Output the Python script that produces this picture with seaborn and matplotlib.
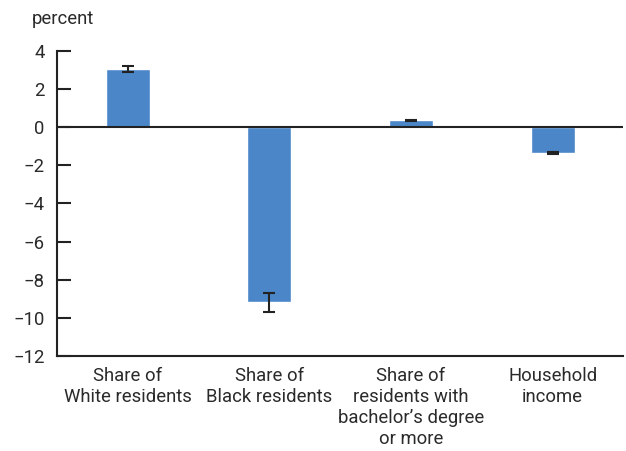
import matplotlib
matplotlib.use("Agg")
import matplotlib.pyplot as plt
import seaborn as sns
import pandas as pd

categories = ["Share of\nWhite residents", "Share of\nBlack residents",
              "Share of\nresidents with\nbachelor\u2019s degree\nor more", "Household\nincome"]
values = [3.04, -9.18, 0.37, -1.36]
errors = [0.15, 0.5, 0.03, 0.07]
yticks = [4, 2, 0, -2, -4, -6, -8, -10, -12]

sns.set_theme(style="white")
plt.rcParams['font.family'] = ['Roboto', 'DejaVu Sans']

FS = 13.3
TXT = "#2a2a2a"
df = pd.DataFrame({"cat": categories, "val": values})
fig = plt.figure(figsize=(6.26, 4.51), dpi=100)
ax = fig.add_axes([0.091, 0.2106, 0.905, 0.6764])
sns.barplot(data=df, x="cat", y="val", color="#4a86c8", saturation=1, width=0.31,
            errorbar=None, ax=ax)
ax.errorbar(range(len(values)), values, yerr=errors, fmt="none", ecolor="#222222",
            elinewidth=1.5, capsize=4, capthick=1.5)
ax.axhline(0, color="#222222", lw=1.5, zorder=5)
ax.set_ylim(-12, 4)
ax.set_xlim(-0.5, 3.5)
ax.set_yticks(yticks)
ax.set_yticklabels([str(t).replace("-", "\u2212") for t in yticks])
ax.set_xlabel("")
ax.set_ylabel("")
for s in ["top", "right"]:
    ax.spines[s].set_visible(False)
for s in ["left", "bottom"]:
    ax.spines[s].set_color("#222222")
    ax.spines[s].set_linewidth(1.5)
ax.tick_params(axis="y", left=True, direction="in", length=10, width=1.5, color="#222222",
               labelsize=FS, labelcolor=TXT, pad=9)
ax.tick_params(axis="x", bottom=False, length=0, labelsize=FS, labelcolor=TXT, pad=8)
for lbl in ax.get_xticklabels():
    lbl.set_linespacing(1.2)
fig.text(0.051, 0.958, "percent", fontsize=FS, color=TXT, va="center", ha="left")
fig.savefig("out.png", dpi=100)
